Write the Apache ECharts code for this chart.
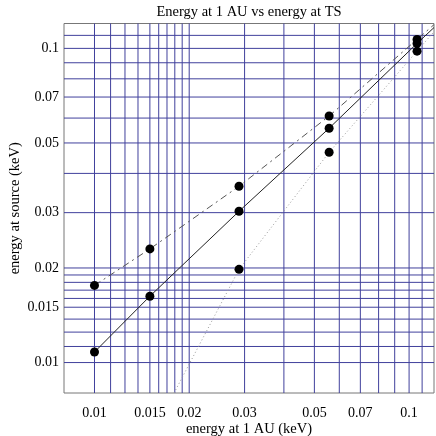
<!DOCTYPE html>
<html>
<head>
<meta charset="utf-8">
<script src="https://cdn.jsdelivr.net/npm/echarts@6/dist/echarts.min.js"></script>
<style>
  html, body { margin: 0; padding: 0; background: #fff; }
  #main { width: 436px; height: 436px; }
</style>
</head>
<body>
<div id="main"></div>
<script>
// axis range, tick labels and grid line positions (same on both axes)
var axisMin = 0.008, axisMax = 0.12;
var tickLabels = [0.01, 0.015, 0.02, 0.03, 0.05, 0.07, 0.1];
var gridVals = [0.01, 0.01125, 0.0125, 0.01375, 0.015, 0.016, 0.017, 0.018, 0.019, 0.02,
    0.03, 0.04, 0.05, 0.06, 0.07, 0.08, 0.09, 0.1, 0.11];

// measured points: energy at 1 AU vs energy at source
var pointX = [0.01, 0.01, 0.015, 0.015, 0.0288, 0.0288, 0.0288, 0.0557, 0.0557, 0.0557, 0.106, 0.106, 0.106];
var pointY = [0.0176, 0.0108, 0.0230, 0.01626, 0.0364, 0.0303, 0.0198, 0.0609, 0.0557, 0.0467, 0.1068, 0.1037, 0.098];

// curves (incl. where they leave the frame)
var solidX = [0.01, 0.015, 0.0288, 0.0557, 0.106, 0.12];
var solidY = [0.0108, 0.01626, 0.0303, 0.0557, 0.1037, 0.1165];
var dashX = [0.01, 0.015, 0.0288, 0.0557, 0.106, 0.12];
var dashY = [0.0176, 0.0230, 0.0364, 0.0609, 0.1068, 0.119];
var dotX = [0.0179, 0.0288, 0.0557, 0.106, 0.12];
var dotY = [0.008, 0.0198, 0.0467, 0.098, 0.113];

function pairs(xs, ys) {
    return xs.map(function (x, i) { return [x, ys[i]]; });
}

var font = '"Liberation Serif", "DejaVu Serif", serif';
var gridColor = '#40409c';

function logAxis(name, gap, margin) {
    return {
        type: 'log',
        logBase: 10,
        min: axisMin,
        max: axisMax,
        name: name,
        nameLocation: 'middle',
        nameGap: gap,
        nameMoveOverlap: false,
        nameTextStyle: { fontFamily: font, fontSize: 14.5, color: '#000' },
        axisLine: { show: false },
        axisTick: { show: false },
        splitLine: { show: false },
        axisLabel: {
            customValues: tickLabels,
            fontFamily: font,
            fontSize: 14,
            color: '#000',
            margin: margin,
            formatter: function (v) { return String(+(+v).toPrecision(3)); }
        }
    };
}

// one grid line per value, vertical or horizontal
function gridSeries(vertical) {
    return {
        type: 'custom',
        silent: true,
        z: 1,
        data: gridVals.map(function (v) { return vertical ? [v, 0.01] : [0.01, v]; }),
        encode: { x: 0, y: 1 },
        renderItem: function (params, api) {
            var a, b;
            if (vertical) {
                a = api.coord([api.value(0), axisMin]);
                b = api.coord([api.value(0), axisMax]);
            } else {
                a = api.coord([axisMin, api.value(1)]);
                b = api.coord([axisMax, api.value(1)]);
            }
            return {
                type: 'line',
                shape: { x1: a[0], y1: a[1], x2: b[0], y2: b[1] },
                style: { stroke: gridColor, lineWidth: 1 }
            };
        }
    };
}

var myChart = echarts.init(document.getElementById('main'));
var option = {
    animation: false,
    backgroundColor: '#fff',
    title: {
        text: 'Energy at 1 AU vs energy at TS',
        left: 244,
        textAlign: 'center',
        top: 0,
        textStyle: { fontFamily: font, fontSize: 14.5, fontWeight: 'normal', color: '#000' }
    },
    grid: {
        left: 64,
        right: 2,
        top: 23.5,
        bottom: 43,
        containLabel: false,
        outerBoundsMode: 'none',
        show: true,
        borderColor: '#777',
        borderWidth: 1
    },
    xAxis: logAxis('energy at 1 AU (keV)', 29, 13),
    yAxis: logAxis('energy at source (keV)', 41.5, 5),
    series: [
        gridSeries(true),
        gridSeries(false),
        {
            type: 'line',
            name: 'solid',
            data: pairs(solidX, solidY),
            showSymbol: false,
            z: 3,
            lineStyle: { color: '#222', width: 1 }
        }, {
            type: 'line',
            name: 'dashdot',
            data: pairs(dashX, dashY),
            showSymbol: false,
            z: 3,
            lineStyle: { color: '#555', width: 1, type: [7, 4, 2, 4] }
        }, {
            type: 'line',
            name: 'dotted',
            data: pairs(dotX, dotY),
            showSymbol: false,
            z: 3,
            lineStyle: { color: '#999', width: 1, type: [1, 2.5] }
        }, {
            type: 'scatter',
            name: 'points',
            data: pairs(pointX, pointY),
            symbolSize: 9,
            z: 4,
            itemStyle: { color: '#000', opacity: 1 }
        }
    ]
};

myChart.setOption(option);
</script>
</body>
</html>
